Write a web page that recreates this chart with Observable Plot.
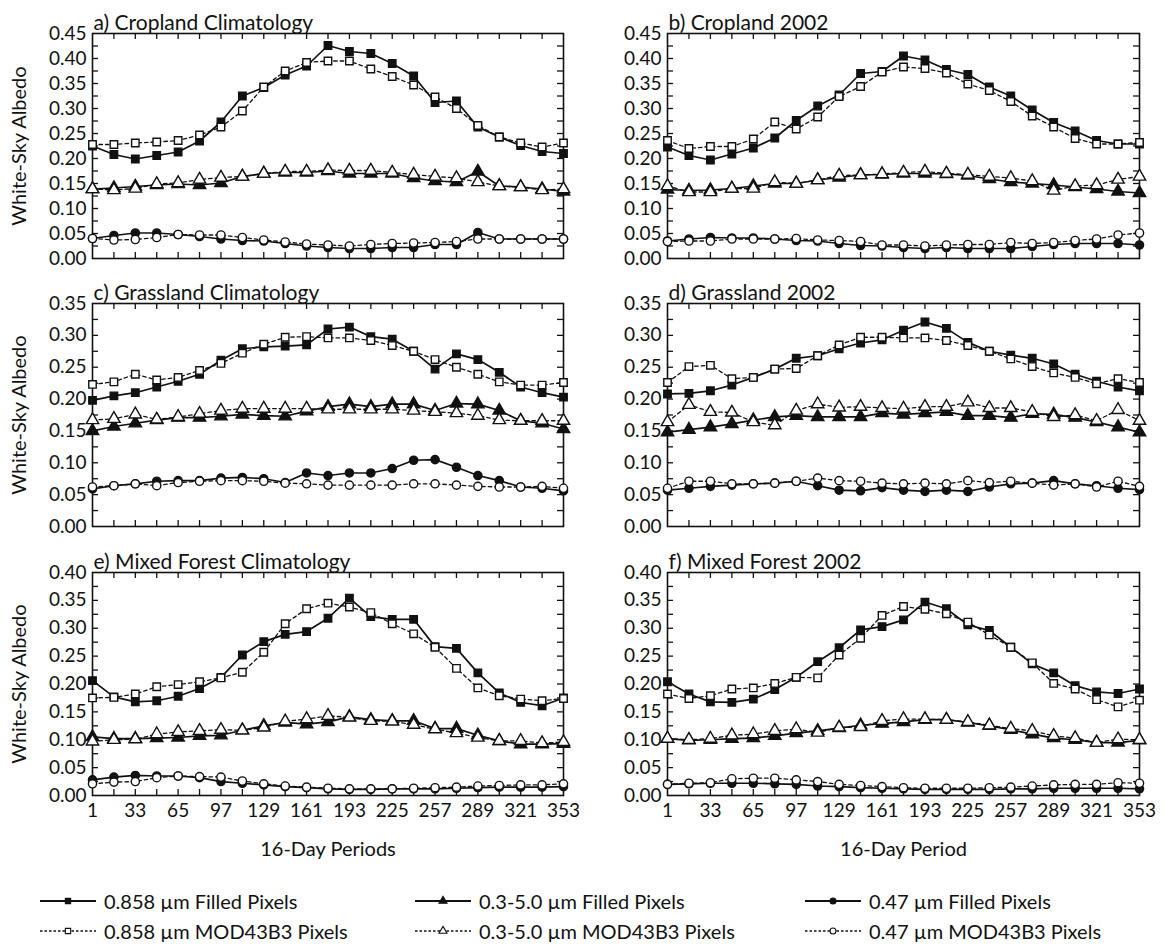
<!DOCTYPE html>
<html>
<head>
<meta charset="utf-8">
<script src="https://cdn.jsdelivr.net/npm/d3@7"></script>
<script src="https://cdn.jsdelivr.net/npm/@observablehq/plot@0.6"></script>
<style>
  html, body { margin: 0; padding: 0; background: #fff; }
  #root { position: relative; width: 1165px; height: 945px; font-family: Lato, "Open Sans", sans-serif; color: #000; overflow: hidden; }
  .panel { position: absolute; }
  .legend-item { position: absolute; display: flex; align-items: center; font-size: 20px; white-space: nowrap; color: #111; }
  .legend-item svg { display: block; margin-right: 8px; }
</style>
</head>
<body>
<div id="root"></div>
<script>
// ---------- data ----------
const days = [1,17,33,49,65,81,97,113,129,145,161,177,193,209,225,241,257,273,289,305,321,337,353];
const xTickLabels = [1,33,65,97,129,161,193,225,257,289,321,353];

const seriesNames = [
  "0.858 µm Filled Pixels", "0.858 µm MOD43B3 Pixels",
  "0.3-5.0 µm Filled Pixels", "0.3-5.0 µm MOD43B3 Pixels",
  "0.47 µm Filled Pixels", "0.47 µm MOD43B3 Pixels"
];
const seriesSymbols = ["square", "square", "triangle", "triangle", "circle", "circle"];
const seriesFilled = [true, false, true, false, true, false];

const panelTitles = [
  "a) Cropland Climatology", "b) Cropland 2002",
  "c) Grassland Climatology", "d) Grassland 2002",
  "e) Mixed Forest Climatology", "f) Mixed Forest 2002"
];
const panelYMax = [0.45, 0.45, 0.35, 0.35, 0.40, 0.40];
const xAxisTitles = ["16-Day Periods", "16-Day Period"];
const yAxisTitle = "White-Sky Albedo";

// a) Cropland Climatology
const aNir     = [0.225,0.208,0.199,0.206,0.213,0.235,0.273,0.325,0.342,0.367,0.385,0.426,0.414,0.410,0.390,0.365,0.312,0.315,0.263,0.243,0.226,0.214,0.210];
const aNirMod  = [0.228,0.228,0.231,0.233,0.236,0.247,0.263,0.295,0.343,0.375,0.392,0.395,0.395,0.379,0.364,0.347,0.323,0.300,0.266,0.243,0.231,0.223,0.231];
const aBb      = [0.139,0.141,0.144,0.147,0.149,0.147,0.151,0.164,0.170,0.172,0.172,0.175,0.170,0.170,0.170,0.161,0.155,0.153,0.174,0.145,0.143,0.139,0.134];
const aBbMod   = [0.139,0.137,0.140,0.149,0.151,0.158,0.162,0.164,0.170,0.174,0.174,0.177,0.176,0.176,0.172,0.168,0.164,0.161,0.153,0.145,0.143,0.137,0.139];
const aBlue    = [0.040,0.046,0.051,0.051,0.048,0.044,0.039,0.036,0.035,0.030,0.025,0.022,0.020,0.020,0.022,0.022,0.028,0.028,0.052,0.039,0.039,0.039,0.039];
const aBlueMod = [0.040,0.037,0.038,0.042,0.048,0.047,0.047,0.042,0.037,0.033,0.029,0.027,0.025,0.028,0.030,0.031,0.032,0.034,0.039,0.039,0.039,0.039,0.039];

// b) Cropland 2002
const bNir     = [0.223,0.206,0.197,0.209,0.221,0.241,0.276,0.305,0.327,0.370,0.374,0.405,0.397,0.378,0.368,0.343,0.325,0.297,0.272,0.255,0.236,0.229,0.229];
const bNirMod  = [0.236,0.220,0.224,0.224,0.239,0.273,0.259,0.283,0.324,0.344,0.373,0.383,0.380,0.371,0.349,0.336,0.314,0.285,0.263,0.240,0.229,0.229,0.232];
const bBb      = [0.138,0.136,0.137,0.140,0.145,0.150,0.150,0.157,0.162,0.167,0.168,0.170,0.170,0.169,0.166,0.159,0.153,0.150,0.147,0.143,0.139,0.134,0.131];
const bBbMod   = [0.145,0.133,0.133,0.140,0.140,0.153,0.150,0.157,0.166,0.167,0.169,0.172,0.174,0.170,0.168,0.164,0.161,0.155,0.136,0.145,0.147,0.158,0.164];
const bBlue    = [0.035,0.039,0.042,0.041,0.041,0.039,0.036,0.035,0.030,0.026,0.025,0.022,0.020,0.022,0.020,0.020,0.020,0.024,0.028,0.030,0.030,0.030,0.027];
const bBlueMod = [0.034,0.035,0.035,0.039,0.039,0.039,0.040,0.037,0.036,0.034,0.027,0.027,0.025,0.027,0.028,0.028,0.032,0.030,0.032,0.036,0.039,0.047,0.051];

// c) Grassland Climatology
const cNir     = [0.198,0.205,0.210,0.219,0.228,0.239,0.261,0.279,0.282,0.283,0.285,0.310,0.313,0.298,0.294,0.275,0.247,0.271,0.262,0.242,0.219,0.210,0.203];
const cNirMod  = [0.223,0.227,0.239,0.230,0.234,0.245,0.256,0.272,0.286,0.297,0.298,0.296,0.296,0.292,0.284,0.275,0.262,0.250,0.239,0.227,0.222,0.222,0.226];
const cBb      = [0.150,0.157,0.162,0.167,0.171,0.171,0.173,0.176,0.174,0.173,0.181,0.188,0.192,0.188,0.192,0.192,0.182,0.193,0.192,0.182,0.166,0.162,0.153];
const cBbMod   = [0.167,0.169,0.176,0.168,0.172,0.177,0.182,0.185,0.185,0.185,0.185,0.184,0.184,0.184,0.184,0.182,0.180,0.178,0.174,0.167,0.166,0.166,0.166];
const cBlue    = [0.059,0.064,0.067,0.071,0.072,0.072,0.076,0.077,0.075,0.069,0.084,0.080,0.084,0.084,0.091,0.104,0.105,0.093,0.080,0.072,0.062,0.060,0.056];
const cBlueMod = [0.062,0.064,0.067,0.064,0.069,0.071,0.072,0.072,0.071,0.068,0.067,0.065,0.065,0.065,0.065,0.067,0.067,0.065,0.063,0.062,0.062,0.063,0.060];

// d) Grassland 2002
const dNir     = [0.208,0.209,0.213,0.222,0.234,0.247,0.264,0.268,0.279,0.288,0.293,0.308,0.321,0.311,0.289,0.275,0.269,0.264,0.255,0.239,0.228,0.219,0.213];
const dNirMod  = [0.226,0.251,0.253,0.232,0.234,0.247,0.248,0.268,0.285,0.297,0.297,0.296,0.296,0.292,0.284,0.275,0.263,0.251,0.241,0.234,0.224,0.232,0.226];
const dBb      = [0.148,0.152,0.156,0.161,0.167,0.172,0.174,0.172,0.172,0.172,0.178,0.176,0.178,0.180,0.174,0.174,0.171,0.177,0.176,0.171,0.164,0.156,0.148];
const dBbMod   = [0.164,0.191,0.180,0.179,0.164,0.159,0.182,0.192,0.187,0.188,0.186,0.185,0.188,0.188,0.195,0.186,0.186,0.180,0.172,0.175,0.166,0.183,0.166];
const dBlue    = [0.057,0.060,0.063,0.065,0.067,0.068,0.071,0.064,0.057,0.056,0.061,0.057,0.055,0.057,0.055,0.062,0.067,0.068,0.072,0.067,0.064,0.060,0.058];
const dBlueMod = [0.060,0.071,0.071,0.067,0.067,0.068,0.071,0.076,0.072,0.071,0.068,0.067,0.068,0.067,0.072,0.069,0.071,0.068,0.065,0.067,0.062,0.071,0.063];

// e) Mixed Forest Climatology
const eNir     = [0.206,0.177,0.168,0.170,0.178,0.192,0.212,0.252,0.276,0.289,0.294,0.318,0.354,0.321,0.316,0.316,0.267,0.264,0.220,0.184,0.167,0.161,0.175];
const eNirMod  = [0.175,0.176,0.182,0.195,0.199,0.204,0.211,0.221,0.257,0.308,0.335,0.345,0.338,0.328,0.308,0.290,0.266,0.228,0.193,0.179,0.173,0.170,0.174];
const eBb      = [0.105,0.102,0.102,0.103,0.104,0.107,0.108,0.117,0.125,0.131,0.128,0.132,0.141,0.136,0.134,0.134,0.120,0.120,0.108,0.098,0.092,0.092,0.093];
const eBbMod   = [0.097,0.100,0.101,0.110,0.114,0.116,0.118,0.117,0.122,0.133,0.137,0.143,0.140,0.134,0.133,0.127,0.119,0.112,0.104,0.098,0.098,0.094,0.096];
const eBlue    = [0.028,0.033,0.036,0.035,0.035,0.032,0.025,0.022,0.019,0.016,0.014,0.012,0.011,0.011,0.012,0.012,0.012,0.013,0.014,0.015,0.015,0.015,0.016];
const eBlueMod = [0.021,0.024,0.025,0.032,0.035,0.034,0.033,0.026,0.021,0.017,0.015,0.013,0.012,0.012,0.012,0.013,0.014,0.015,0.017,0.018,0.019,0.019,0.021];

// f) Mixed Forest 2002
const fNir     = [0.204,0.182,0.168,0.167,0.173,0.190,0.212,0.240,0.265,0.297,0.303,0.315,0.347,0.335,0.306,0.296,0.266,0.236,0.220,0.197,0.186,0.183,0.191];
const fNirMod  = [0.182,0.174,0.179,0.191,0.193,0.201,0.212,0.211,0.252,0.282,0.323,0.339,0.334,0.326,0.311,0.288,0.266,0.238,0.201,0.191,0.172,0.159,0.171];
const fBb      = [0.102,0.099,0.100,0.102,0.103,0.107,0.112,0.116,0.121,0.126,0.129,0.132,0.136,0.136,0.131,0.125,0.118,0.110,0.103,0.100,0.095,0.095,0.099];
const fBbMod   = [0.102,0.100,0.102,0.108,0.110,0.116,0.119,0.113,0.122,0.123,0.134,0.137,0.137,0.136,0.132,0.126,0.120,0.116,0.107,0.103,0.095,0.101,0.100];
const fBlue    = [0.020,0.021,0.022,0.022,0.022,0.021,0.020,0.017,0.016,0.014,0.013,0.012,0.011,0.011,0.011,0.011,0.012,0.012,0.013,0.013,0.013,0.013,0.012];
const fBlueMod = [0.020,0.022,0.023,0.030,0.031,0.031,0.028,0.025,0.020,0.018,0.016,0.014,0.013,0.013,0.013,0.014,0.015,0.017,0.019,0.020,0.020,0.023,0.022];

const panelSeries = [
  [aNir, aNirMod, aBb, aBbMod, aBlue, aBlueMod],
  [bNir, bNirMod, bBb, bBbMod, bBlue, bBlueMod],
  [cNir, cNirMod, cBb, cBbMod, cBlue, cBlueMod],
  [dNir, dNirMod, dBb, dBbMod, dBlue, dBlueMod],
  [eNir, eNirMod, eBb, eBbMod, eBlue, eBlueMod],
  [fNir, fNirMod, fBb, fBbMod, fBlue, fBlueMod]
];

// ---------- layout ----------
const colLeft = [0, 580], colWidth = [580, 585];
const colML = [92, 87], colMR = [17, 26];
const rowTop = [0, 270, 538];
const rowMT = [33, 33, 34], rowFH = [225, 223, 223], rowMB = [12, 12, 70];
const FONT = "Lato, 'Open Sans', sans-serif";
const INK = "#111";

const root = document.getElementById("root");

function makePanel(p) {
  const col = p % 2, row = Math.floor(p / 2);
  const yMax = panelYMax[p];
  const W = colWidth[col], ML = colML[col], MR = colMR[col];
  const MT = rowMT[row], FH = rowFH[row], MB = rowMB[row];
  const H = MT + FH + MB;
  const FW = W - ML - MR;

  const rows = [];
  panelSeries[p].forEach((vals, si) => vals.forEach((v, i) => rows.push({day: days[i], value: v, s: si})));

  const yLabelTicks = d3.range(0, Math.round(yMax / 0.05) + 1).map(i => +(i * 0.05).toFixed(3));
  const yMinorTicks = d3.range(1, Math.round(yMax / 0.025)).map(i => +(i * 0.025).toFixed(4));
  const xMinorTicks = days.slice(1, -1);
  const tl = 6;

  const marks = [
    Plot.frame({stroke: INK, strokeWidth: 1.6}),
    Plot.ruleX(xMinorTicks, {x: d => d, insetBottom: FH - tl, stroke: INK, strokeWidth: 1.3}),
    Plot.ruleX(xMinorTicks, {x: d => d, insetTop: FH - tl, stroke: INK, strokeWidth: 1.3}),
    Plot.ruleY(yMinorTicks, {y: d => d, insetRight: FW - tl, stroke: INK, strokeWidth: 1.3}),
    Plot.ruleY(yMinorTicks, {y: d => d, insetLeft: FW - tl, stroke: INK, strokeWidth: 1.3}),
    Plot.axisY({ticks: yLabelTicks, tickFormat: d3.format(".2f"), tickSize: 0, tickPadding: 6, fontSize: 19, label: null}),
    Plot.text([panelTitles[p]], {
      frameAnchor: "top-left", text: d => d, textAnchor: "start", lineAnchor: "bottom",
      dy: -4, dx: 1, fontSize: 21, fill: INK
    })
  ];
  if (col === 0) {
    marks.push(Plot.text([yAxisTitle], {
      frameAnchor: "left", text: d => d, rotate: -90, dx: -81, lineAnchor: "top",
      textAnchor: "middle", fontSize: 20, fill: INK
    }));
  }
  if (row === 2) {
    marks.push(Plot.axisX({ticks: xTickLabels, tickSize: 0, tickPadding: 8, fontSize: 19, label: null}));
    marks.push(Plot.text([xAxisTitles[col]], {
      frameAnchor: "bottom", text: d => d, dy: 60, lineAnchor: "bottom", fontSize: 20, fill: INK
    }));
  }
  // lines: dashed (MOD43B3) then solid (filled)
  marks.push(Plot.line(rows.filter(d => !seriesFilled[d.s]), {
    x: "day", y: "value", z: "s", stroke: INK, strokeWidth: 1.3, strokeDasharray: "3.5,3"
  }));
  marks.push(Plot.line(rows.filter(d => seriesFilled[d.s]), {
    x: "day", y: "value", z: "s", stroke: INK, strokeWidth: 1.7
  }));
  // markers: filled first, open on top
  [0, 2, 4, 1, 3, 5].forEach(si => {
    const sym = seriesSymbols[si];
    const r = sym === "circle" ? 4.1 : sym === "square" ? 4.2 : 4.6;
    marks.push(Plot.dot(rows.filter(d => d.s === si), {
      x: "day", y: "value", symbol: sym, r,
      fill: seriesFilled[si] ? INK : "white", stroke: INK, strokeWidth: 1.4
    }));
  });

  const chart = Plot.plot({
    width: W, height: H,
    marginLeft: ML, marginRight: MR, marginTop: MT, marginBottom: MB,
    x: {domain: [1, 353], label: null, axis: null},
    y: {domain: [0, yMax], label: null, axis: null},
    style: {fontFamily: FONT, fontSize: "19px", color: INK, background: "white", overflow: "visible"},
    marks
  });
  chart.classList.add("panel");
  chart.style.left = colLeft[col] + "px";
  chart.style.top = rowTop[row] + "px";
  root.appendChild(chart);
}

for (let p = 0; p < 6; p++) makePanel(p);

// ---------- legend ----------
const legendColX = [40, 415, 805];
const legendRowY = [889, 919];
const legendOrder = [[0, 2, 4], [1, 3, 5]];
legendOrder.forEach((rowItems, ri) => {
  rowItems.forEach((si, ci) => {
    const item = document.createElement("div");
    item.className = "legend-item";
    item.style.left = legendColX[ci] + "px";
    item.style.top = legendRowY[ri] + "px";
    const sw = 56, sh = 20;
    const svg = d3.create("svg").attr("width", sw).attr("height", sh);
    svg.append("line").attr("x1", 0).attr("x2", sw).attr("y1", sh / 2).attr("y2", sh / 2)
      .attr("stroke", INK).attr("stroke-width", seriesFilled[si] ? 1.8 : 1.3)
      .attr("stroke-dasharray", seriesFilled[si] ? null : "2.5,2");
    const symType = {square: d3.symbolSquare, triangle: d3.symbolTriangle, circle: d3.symbolCircle}[seriesSymbols[si]];
    svg.append("path").attr("d", d3.symbol(symType, 28)())
      .attr("transform", `translate(${sw / 2},${sh / 2})`)
      .attr("fill", seriesFilled[si] ? INK : "white").attr("stroke", INK).attr("stroke-width", 1.1);
    item.appendChild(svg.node());
    const span = document.createElement("span");
    span.textContent = seriesNames[si];
    item.appendChild(span);
    root.appendChild(item);
  });
});
</script>
</body>
</html>
